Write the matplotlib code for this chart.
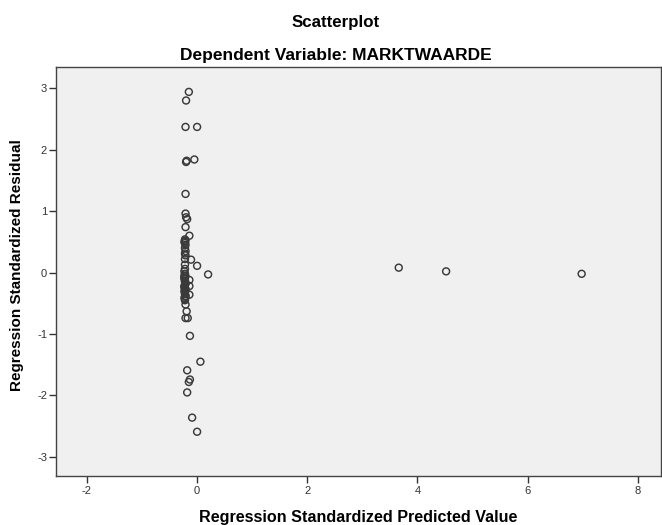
import matplotlib
matplotlib.use("Agg")
import matplotlib.pyplot as plt

plt.rcParams['font.family'] = ['Liberation Sans', 'DejaVu Sans']
plt.rcParams['axes.unicode_minus'] = False

title = "Scatterplot"
subtitle = "Dependent Variable: MARKTWAARDE"
xlabel = "Regression Standardized Predicted Value"
ylabel = "Regression Standardized Residual"

x_ticks = [-2, 0, 2, 4, 6, 8]
y_ticks = [-3, -2, -1, 0, 1, 2, 3]

pred = [-0.15, -0.20, -0.21, 0.00, -0.19, -0.20, -0.05, -0.21, -0.21, -0.18,
        -0.20, -0.21, -0.14, -0.22, -0.21, -0.23, -0.22, -0.21, -0.22, -0.11,
        0.00, -0.22, -0.22, 0.20, -0.22, -0.21, -0.14, -0.23, -0.22, -0.21,
        -0.14, -0.23, -0.22, -0.21, -0.23, -0.22, -0.14, -0.21, -0.23, -0.22,
        -0.21, -0.19, -0.21, -0.17, -0.13, 0.06, -0.18, -0.13, -0.15, -0.18,
        -0.09, 0.00, 3.66, 4.52, 6.98,
        -0.22, -0.21, -0.23, -0.22, -0.21, -0.22,
        -0.23, -0.22, -0.21, -0.23, -0.22, -0.21, -0.22, -0.23, -0.21, -0.22]
resid = [2.94, 2.80, 2.37, 2.37, 1.82, 1.80, 1.84, 1.28, 0.96, 0.87,
         0.90, 0.74, 0.60, 0.54, 0.52, 0.50, 0.31, 0.28, 0.22, 0.21,
         0.11, 0.13, 0.06, -0.03, -0.02, -0.06, -0.12, -0.10, -0.15, -0.18,
         -0.22, -0.22, -0.25, -0.28, -0.30, -0.33, -0.36, -0.38, -0.41, -0.45,
         -0.52, -0.63, -0.74, -0.74, -1.03, -1.45, -1.59, -1.74, -1.78, -1.95,
         -2.36, -2.59, 0.08, 0.02, -0.02,
         0.40, 0.35, -0.05, -0.20, -0.27, -0.35,
         -0.08, -0.13, -0.17, -0.24, -0.31, -0.39, -0.43, 0.02, 0.45, 0.48]

W, H = 662, 525
fig = plt.figure(figsize=(W / 100, H / 100), dpi=100)
left, right, top, bottom = 55.5, 661.0, 66.7, 476.0
ax = fig.add_axes([left / W, 1 - bottom / H, (right - left) / W, (bottom - top) / H])
ax.set_facecolor('#F0F0F0')

ax.scatter(pred, resid, s=25, facecolors='none', edgecolors='#3a3a3a', linewidths=1.05, zorder=3)

ax.set_xlim(-2.57, 8.42)
ax.set_ylim(-3.31, 3.35)
ax.set_xticks(x_ticks)
ax.set_yticks(y_ticks)
ax.tick_params(axis='both', labelsize=8, colors='#333333', width=1, direction='out')
ax.tick_params(axis='x', length=4.8, pad=2.5)
ax.tick_params(axis='y', length=5, pad=1)
for sp in ax.spines.values():
    sp.set_color('#444444')
    sp.set_linewidth(1.0)

cx = (left + right) / 2 / W
fig.text(cx, 1 - 521.7 / H, xlabel, ha='center', va='baseline', fontsize=11.6, fontweight='bold')
fig.text(17.5 / W, 1 - 265 / H, ylabel, ha='center', va='center',
         rotation=90, fontsize=11, fontweight='bold')

fig.text(336 / W, 1 - 26.7 / H, title, ha='center', va='baseline', fontsize=12.2, fontweight='bold')
fig.text(336 / W, 1 - 60 / H, subtitle, ha='center', va='baseline', fontsize=12.5, fontweight='bold')

fig.savefig('out.png', dpi=100, facecolor='white')
